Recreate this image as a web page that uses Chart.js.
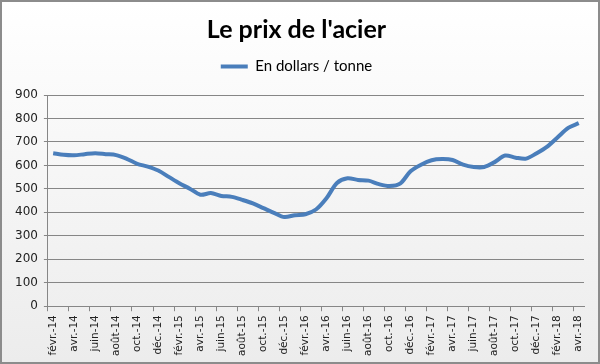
<!DOCTYPE html>
<html>
<head>
	<meta charset="utf-8">
	<title>Le prix de l'acier</title>
	<style>
		html, body {
			margin: 0;
			padding: 0;
			background: #fff;
		}
		.cadre {
			width: 600px;
			height: 364px;
			box-sizing: border-box;
			border: 2px solid #8c8c8c;
			background: linear-gradient(#ffffff, #ececec);
		}
		.cadre canvas {
			display: block;
		}
	</style>
</head>
<body>
	<div class="cadre">
		<canvas id="acier" width="596" height="360"></canvas>
	</div>
	<script src="https://cdn.jsdelivr.net/npm/chart.js@4"></script>
	<script>
		const mois = [
			"févr.-14", "mars-14", "avr.-14", "mai-14", "juin-14", "juil.-14", "août-14", "sept.-14", "oct.-14", "nov.-14", "déc.-14",
			"janv.-15", "févr.-15", "mars-15", "avr.-15", "mai-15", "juin-15", "juil.-15", "août-15", "sept.-15", "oct.-15", "nov.-15", "déc.-15",
			"janv.-16", "févr.-16", "mars-16", "avr.-16", "mai-16", "juin-16", "juil.-16", "août-16", "sept.-16", "oct.-16", "nov.-16", "déc.-16",
			"janv.-17", "févr.-17", "mars-17", "avr.-17", "mai-17", "juin-17", "juil.-17", "août-17", "sept.-17", "oct.-17", "nov.-17", "déc.-17",
			"janv.-18", "févr.-18", "mars-18", "avr.-18"
		];
		const prix = [
			652, 645, 643, 648, 652, 648, 644, 628, 607, 595,
			578, 551, 524, 501, 475, 482, 470, 466, 453, 438,
			418, 398, 380, 388, 392, 412, 460, 525, 545, 538,
			535, 520, 512, 522, 575, 603, 622, 627, 623, 603,
			593, 593, 614, 642, 633, 629, 652, 680, 720, 760,
			780
		];
		const titre = "Le prix de l'acier";
		const serie = "En dollars / tonne";

		const bleu = "#4a7ebb";
		const gris = "#868686";

		// un peu d'air sous la légende
		const legendeMarge = {
			id: "legendeMarge",
			beforeInit(chart) {
				const fit = chart.legend.fit;
				chart.legend.fit = function () {
					fit.bind(chart.legend)();
					this.height += 11;
				};
			}
		};

		new Chart(document.getElementById("acier"), {
			type: "line",
			data: {
				labels: mois,
				datasets: [{
					label: serie,
					data: prix,
					borderColor: bleu,
					backgroundColor: bleu,
					borderWidth: 4,
					pointRadius: 0,
					tension: 0.3,
					fill: false
				}]
			},
			options: {
				responsive: false,
				animation: false,
				layout: {
					padding: { left: 7, right: 14, bottom: 2, top: 0 }
				},
				plugins: {
					title: {
						display: true,
						text: titre,
						color: "#000",
						font: { family: "Lato", size: 25, weight: "bold" },
						padding: { top: 13, bottom: 4 }
					},
					legend: {
						display: true,
						labels: {
							color: "#000",
							font: { family: "Lato", size: 15 },
							boxWidth: 27,
							boxHeight: 4,
							generateLabels(chart) {
								const items = Chart.defaults.plugins.legend.labels.generateLabels(chart);
								items.forEach(it => {
									it.lineWidth = 0;
									it.fillStyle = bleu;
								});
								return items;
							}
						}
					},
					tooltip: { enabled: false }
				},
				scales: {
					x: {
						offset: true,
						grid: {
							offset: true,
							drawOnChartArea: false,
							drawTicks: true,
							tickLength: 5,
							color: ctx => ctx.index % 2 === 0 ? gris : "rgba(0,0,0,0)"
						},
						border: { display: true, color: gris, width: 1 },
						ticks: {
							autoSkip: false,
							maxRotation: 90,
							minRotation: 90,
							padding: 4,
							color: "#222",
							font: { family: "DejaVu Sans", size: 10.5 },
							callback: (v, i) => i % 2 === 0 ? mois[i] : ""
						}
					},
					y: {
						min: 0,
						max: 900,
						grid: {
							color: gris,
							tickLength: 4,
							drawTicks: true
						},
						border: { display: true, color: gris, width: 1 },
						ticks: {
							stepSize: 100,
							padding: 6,
							color: "#222",
							font: { family: "DejaVu Sans", size: 12 }
						}
					}
				}
			},
			plugins: [legendeMarge]
		});
	</script>
</body>
</html>
